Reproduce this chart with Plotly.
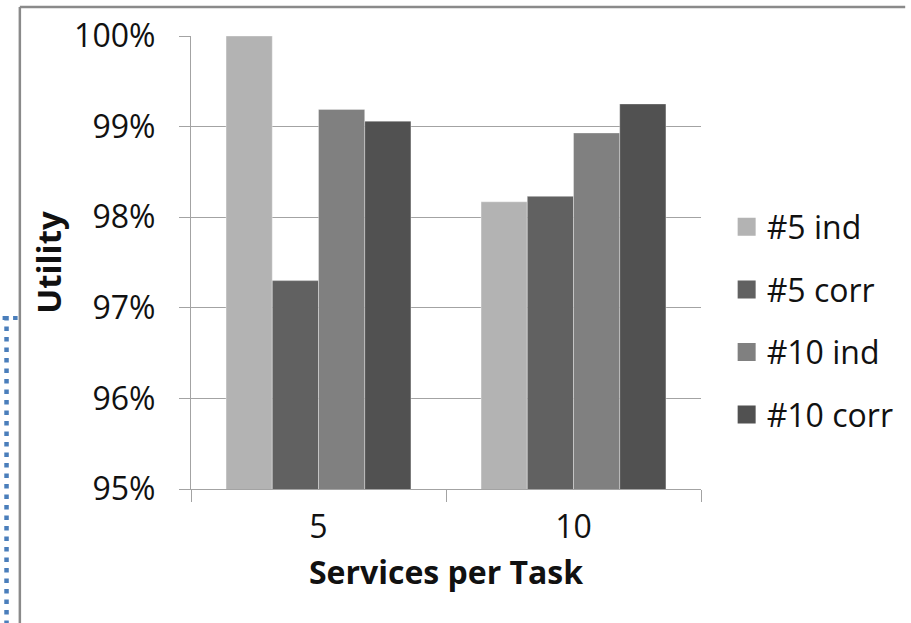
import plotly.graph_objects as go

categories = ["5", "10"]
series_names = ["#5 ind", "#5 corr", "#10 ind", "#10 corr"]
values_5_ind = [1.0000, 0.9817]
values_5_corr = [0.9730, 0.9823]
values_10_ind = [0.9919, 0.9893]
values_10_corr = [0.9906, 0.9925]
series_values = [values_5_ind, values_5_corr, values_10_ind, values_10_corr]
colors = ["#b3b3b3", "#616161", "#808080", "#515151"]
y_tick_vals = [0.95, 0.96, 0.97, 0.98, 0.99, 1.00]

W, H = 911, 623
ML, MR, MT, MB = 191, 203, 36, 134
PW, PH = W - ML - MR, H - MT - MB

def px(x):
    return (x - ML) / PW

def py(y):
    return (H - MB - y) / PH

FONT = "Open Sans"
fig = go.Figure()
for i, (name, vals) in enumerate(zip(series_names, series_values)):
    fig.add_trace(go.Bar(
        x=categories, y=vals, name=name, showlegend=False,
        marker=dict(color=colors[i], line=dict(color="rgba(255,255,255,0.35)", width=1)),
    ))
for i, name in enumerate(series_names):
    fig.add_trace(go.Scatter(
        x=[None], y=[None], mode="markers", name=name, legendgroup=name,
        marker=dict(symbol="square", size=16, color=colors[i],
                    line=dict(color=colors[i], width=2)),
    ))

grid = "#a3a3a3"
fig.update_layout(
    width=W, height=H,
    margin=dict(l=ML, r=MR, t=MT, b=MB, pad=0),
    paper_bgcolor="white", plot_bgcolor="white",
    barmode="group", bargap=0.275, bargroupgap=0,
    font=dict(family=FONT, size=32, color="#111111"),
    legend=dict(x=px(734), xanchor="left", y=py(321), yanchor="middle",
                font=dict(size=32, family=FONT, color="#111111"),
                tracegroupgap=18, traceorder="grouped", bgcolor="rgba(0,0,0,0)"),
    xaxis=dict(
        type="category", tickson="boundaries", ticks="outside", ticklen=12,
        tickcolor=grid, tickwidth=1.3, showgrid=False,
        showline=True, linecolor=grid, linewidth=1.3,
        tickfont=dict(size=32, family=FONT), ticklabelstandoff=9,
        title=dict(text="<b>Services per Task</b>", font=dict(size=32, family=FONT), standoff=16),
    ),
    yaxis=dict(
        range=[0.95, 1.0], tickvals=y_tick_vals, tickformat=".0%",
        ticks="outside", ticklen=11, tickcolor=grid, tickwidth=1.3,
        showgrid=True, gridcolor=grid, gridwidth=1.3,
        showline=True, linecolor=grid, linewidth=1.3, zeroline=False,
        tickfont=dict(size=32, family=FONT), ticklabelstandoff=17,
        title=dict(text="<b>Utility</b>", font=dict(size=33, family=FONT), standoff=2),
    ),
    shapes=[
        dict(type="line", xref="paper", yref="paper", x0=px(17.5), x1=px(915), y0=py(7), y1=py(7),
             line=dict(color="#8a8a8a", width=2.5)),
        dict(type="line", xref="paper", yref="paper", x0=px(17.5), x1=px(17.5), y0=py(7), y1=py(630),
             line=dict(color="#8a8a8a", width=2.5)),
        dict(type="line", xref="paper", yref="paper", x0=px(4), x1=px(4), y0=py(316), y1=py(630),
             line=dict(color="#4a7ebb", width=4.5, dash="4.5px,6px")),
        dict(type="line", xref="paper", yref="paper", x0=px(0), x1=px(17), y0=py(318), y1=py(318),
             line=dict(color="#4a7ebb", width=4, dash="4.5px,6px")),
    ],
)
fig.write_html("out.html")
